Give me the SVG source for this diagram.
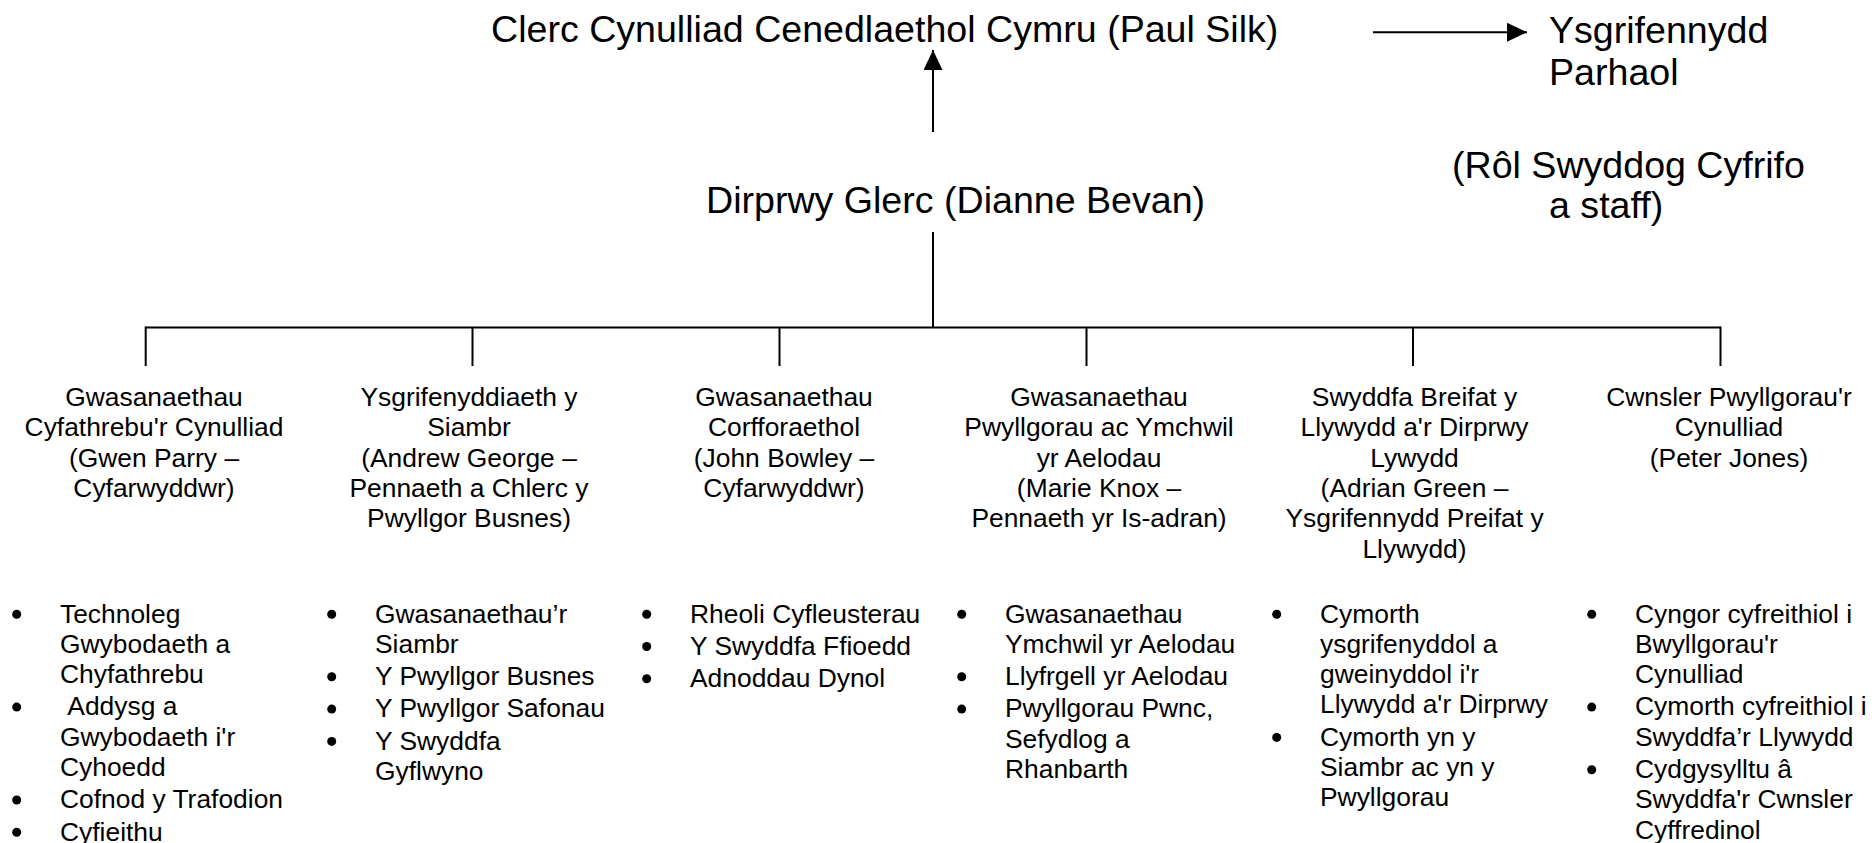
<svg xmlns="http://www.w3.org/2000/svg" width="1872" height="843" viewBox="0 0 1872 843">
<style>
text{font-family:"Liberation Sans",Arial,sans-serif;fill:#000}
.big{font-size:37.6px}
.hd{font-size:26.4px;text-anchor:middle}
.li{font-size:26.4px}
.ln{stroke:#000;stroke-width:2;fill:none}
.bul{fill:#000}
</style>
<defs>
<marker id="ah" markerUnits="userSpaceOnUse" markerWidth="22" markerHeight="22" refX="20" refY="9.5" orient="auto" viewBox="0 0 22 22">
<path d="M0,0 L20,9.5 L0,19 z" fill="#000"/>
</marker>
</defs>
<g id="connectors">
<line class="ln" x1="933" y1="132" x2="933" y2="50" marker-end="url(#ah)"/>
<line class="ln" x1="1373" y1="32.3" x2="1527" y2="32.3" marker-end="url(#ah)"/>
<line class="ln" x1="933" y1="232" x2="933" y2="327.5"/>
<line class="ln" x1="145.7" y1="327.5" x2="1720.5" y2="327.5"/>
<line class="ln" x1="145.7" y1="326.5" x2="145.7" y2="366"/>
<line class="ln" x1="472.5" y1="327.5" x2="472.5" y2="366"/>
<line class="ln" x1="779.5" y1="327.5" x2="779.5" y2="366"/>
<line class="ln" x1="1086.5" y1="327.5" x2="1086.5" y2="366"/>
<line class="ln" x1="1413" y1="327.5" x2="1413" y2="366"/>
<line class="ln" x1="1720.5" y1="326.5" x2="1720.5" y2="366"/>
</g>
<g id="clerc"><text class="big" x="491" y="42">Clerc Cynulliad Cenedlaethol Cymru (Paul Silk)</text></g>
<g id="ysgrifennydd-parhaol"><text class="big"><tspan x="1549" y="42.5">Ysgrifennydd</tspan><tspan x="1549" y="85">Parhaol</tspan></text></g>
<g id="rol-swyddog"><text class="big"><tspan x="1452" y="178.3">(Rôl Swyddog Cyfrifo</tspan><tspan x="1549" y="218">a staff)</tspan></text></g>
<g id="dirprwy-glerc"><text class="big" x="706" y="213">Dirprwy Glerc (Dianne Bevan)</text></g>

<g id="dept1">
<text class="hd"><tspan x="154" y="406">Gwasanaethau</tspan><tspan x="154" y="436.3">Cyfathrebu'r Cynulliad</tspan><tspan x="154" y="466.6">(Gwen Parry –</tspan><tspan x="154" y="496.9">Cyfarwyddwr)</tspan></text>
<circle class="bul" cx="16.7" cy="614.2" r="4.5"/><circle class="bul" cx="16.7" cy="707.1" r="4.5"/><circle class="bul" cx="16.7" cy="800" r="4.5"/><circle class="bul" cx="16.7" cy="832.3" r="4.5"/>
<text class="li"><tspan x="60" y="622.5">Technoleg</tspan><tspan x="60" y="652.8">Gwybodaeth a</tspan><tspan x="60" y="683.1">Chyfathrebu</tspan><tspan x="67.3" y="715.4">Addysg a</tspan><tspan x="60" y="745.7">Gwybodaeth i'r</tspan><tspan x="60" y="776">Cyhoedd</tspan><tspan x="60" y="808.3">Cofnod y Trafodion</tspan><tspan x="60" y="840.6">Cyfieithu</tspan></text>
</g>

<g id="dept2">
<text class="hd"><tspan x="469" y="406">Ysgrifenyddiaeth y</tspan><tspan x="469" y="436.3">Siambr</tspan><tspan x="469" y="466.6">(Andrew George –</tspan><tspan x="469" y="496.9">Pennaeth a Chlerc y</tspan><tspan x="469" y="527.2">Pwyllgor Busnes)</tspan></text>
<circle class="bul" cx="331.7" cy="614.2" r="4.5"/><circle class="bul" cx="331.7" cy="676.8" r="4.5"/><circle class="bul" cx="331.7" cy="709.1" r="4.5"/><circle class="bul" cx="331.7" cy="741.4" r="4.5"/>
<text class="li"><tspan x="375" y="622.5">Gwasanaethau’r</tspan><tspan x="375" y="652.8">Siambr</tspan><tspan x="375" y="685.1">Y Pwyllgor Busnes</tspan><tspan x="375" y="717.4">Y Pwyllgor Safonau</tspan><tspan x="375" y="749.7">Y Swyddfa</tspan><tspan x="375" y="780">Gyflwyno</tspan></text>
</g>

<g id="dept3">
<text class="hd"><tspan x="784" y="406">Gwasanaethau</tspan><tspan x="784" y="436.3">Corfforaethol</tspan><tspan x="784" y="466.6">(John Bowley –</tspan><tspan x="784" y="496.9">Cyfarwyddwr)</tspan></text>
<circle class="bul" cx="646.7" cy="614.2" r="4.5"/><circle class="bul" cx="646.7" cy="646.5" r="4.5"/><circle class="bul" cx="646.7" cy="678.8" r="4.5"/>
<text class="li"><tspan x="690" y="622.5">Rheoli Cyfleusterau</tspan><tspan x="690" y="654.8">Y Swyddfa Ffioedd</tspan><tspan x="690" y="687.1">Adnoddau Dynol</tspan></text>
</g>

<g id="dept4">
<text class="hd"><tspan x="1099" y="406">Gwasanaethau</tspan><tspan x="1099" y="436.3">Pwyllgorau ac Ymchwil</tspan><tspan x="1099" y="466.6">yr Aelodau</tspan><tspan x="1099" y="496.9">(Marie Knox –</tspan><tspan x="1099" y="527.2">Pennaeth yr Is-adran)</tspan></text>
<circle class="bul" cx="961.7" cy="614.2" r="4.5"/><circle class="bul" cx="961.7" cy="676.8" r="4.5"/><circle class="bul" cx="961.7" cy="709.1" r="4.5"/>
<text class="li"><tspan x="1005" y="622.5">Gwasanaethau</tspan><tspan x="1005" y="652.8">Ymchwil yr Aelodau</tspan><tspan x="1005" y="685.1">Llyfrgell yr Aelodau</tspan><tspan x="1005" y="717.4">Pwyllgorau Pwnc,</tspan><tspan x="1005" y="747.7">Sefydlog a</tspan><tspan x="1005" y="778">Rhanbarth</tspan></text>
</g>

<g id="dept5">
<text class="hd"><tspan x="1414.5" y="406">Swyddfa Breifat y</tspan><tspan x="1414.5" y="436.3">Llywydd a'r Dirprwy</tspan><tspan x="1414.5" y="466.6">Lywydd</tspan><tspan x="1414.5" y="496.9">(Adrian Green –</tspan><tspan x="1414.5" y="527.2">Ysgrifennydd Preifat y</tspan><tspan x="1414.5" y="557.5">Llywydd)</tspan></text>
<circle class="bul" cx="1276.7" cy="614.2" r="4.5"/><circle class="bul" cx="1276.7" cy="737.4" r="4.5"/>
<text class="li"><tspan x="1320" y="622.5">Cymorth</tspan><tspan x="1320" y="652.8">ysgrifenyddol a</tspan><tspan x="1320" y="683.1">gweinyddol i'r</tspan><tspan x="1320" y="713.4">Llywydd a'r Dirprwy</tspan><tspan x="1320" y="745.7">Cymorth yn y</tspan><tspan x="1320" y="776">Siambr ac yn y</tspan><tspan x="1320" y="806.3">Pwyllgorau</tspan></text>
</g>

<g id="dept6">
<text class="hd"><tspan x="1729" y="406">Cwnsler Pwyllgorau'r</tspan><tspan x="1729" y="436.3">Cynulliad</tspan><tspan x="1729" y="466.6">(Peter Jones)</tspan></text>
<circle class="bul" cx="1591.7" cy="614.2" r="4.5"/><circle class="bul" cx="1591.7" cy="707.1" r="4.5"/><circle class="bul" cx="1591.7" cy="769.7" r="4.5"/>
<text class="li"><tspan x="1635" y="622.5">Cyngor cyfreithiol i</tspan><tspan x="1635" y="652.8">Bwyllgorau'r</tspan><tspan x="1635" y="683.1">Cynulliad</tspan><tspan x="1635" y="715.4">Cymorth cyfreithiol i</tspan><tspan x="1635" y="745.7">Swyddfa’r Llywydd</tspan><tspan x="1635" y="778">Cydgysylltu â</tspan><tspan x="1635" y="808.3">Swyddfa'r Cwnsler</tspan><tspan x="1635" y="838.6">Cyffredinol</tspan></text>
</g>
</svg>
